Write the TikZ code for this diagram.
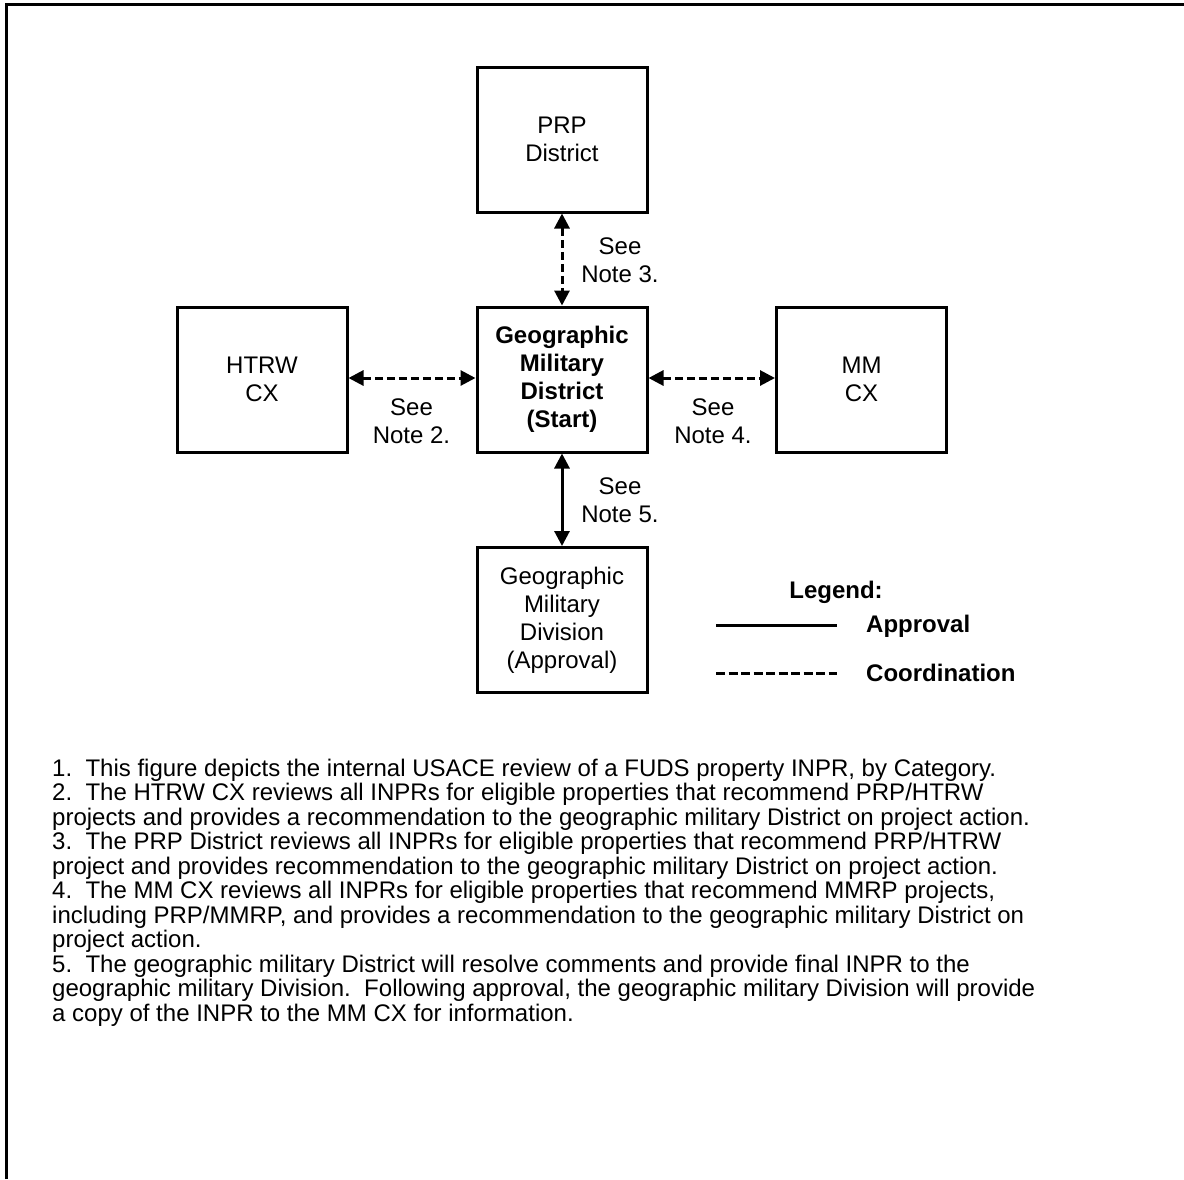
\documentclass[tikz,border=0pt]{standalone}
\usepackage{fontspec}
\setmainfont{Liberation Sans}
\usetikzlibrary{arrows.meta}
\frenchspacing
\begin{document}
\begin{tikzpicture}[x=1pt,y=-1pt,
  box/.style={draw,line width=3pt,minimum width=170pt,minimum height=145pt,
    align=center,font=\fontsize{24}{28}\selectfont,inner sep=0pt},
  link/.style={line width=3pt,{Triangle[length=15pt,width=15pt]}-{Triangle[length=15pt,width=15pt]}},
  coord/.style={link,dash pattern=on 8pt off 4pt},
  lbl/.style={align=center,font=\fontsize{24}{28}\selectfont,inner sep=0pt},
  legline/.style={line width=3pt},
  legtxt/.style={font=\fontsize{24}{28}\selectfont\bfseries,inner sep=0pt}]
\useasboundingbox (0,0) rectangle (1184,1179);
% open frame: top and left edges only
\draw[line width=3pt] (6.5,1179) -- (6.5,4.5) -- (1184,4.5);

% boxes
\node[box] (prp)  at (562,139.5) {PRP\\District};
\node[box] (gmd)  at (562,379.5) {\bfseries Geographic\\\bfseries Military\\\bfseries District\\\bfseries (Start)};
\node[box] (htrw) at (262,379.5) {HTRW\\CX};
\node[box] (mm)   at (861.5,379.5) {MM\\CX};
\node[box] (div)  at (562,620) {Geographic\\Military\\Division\\(Approval)};

% connectors
\draw[coord] (prp.south) -- (gmd.north);
\draw[coord] (htrw.east |- 0,378) -- (gmd.west |- 0,378);
\draw[coord] (gmd.east |- 0,378) -- (mm.west |- 0,378);
\draw[link] (gmd.south) -- (div.north);

% connector notes
\node[lbl] (n3) at (620,260) {See\\Note 3.};
\node[lbl] (n2) at (411.5,421) {See\\Note 2.};
\node[lbl] (n4) at (713,421) {See\\Note 4.};
\node[lbl] (n5) at (620,500) {See\\Note 5.};

% legend
\node[legtxt] (leg) at (836,592) {Legend:};
\coordinate (la1) at (716,625);
\coordinate (la2) at (837,625);
\coordinate (lc1) at (716,673);
\coordinate (lc2) at (837,673);
\draw[legline] (la1) -- (la2);
\draw[legline,dash pattern=on 9pt off 3.5pt] (lc1) -- (lc2);
\node[legtxt,anchor=west] (lapp) at (866,626) {Approval};
\node[legtxt,anchor=west] (lcoo) at (866,673) {Coordination};

% notes
\node[anchor=north west,align=left,inner sep=0pt,
      font=\fontsize{24}{24.5}\selectfont] (notes) at (52,758.5) {%
1.~ This figure depicts the internal USACE review of a FUDS property INPR, by Category.\\
2.~ The HTRW CX reviews all INPRs for eligible properties that recommend PRP/HTRW\\
projects and provides a recommendation to the geographic military District on project action.\\
3.~ The PRP District reviews all INPRs for eligible properties that recommend PRP/HTRW\\
project and provides recommendation to the geographic military District on project action.\\
4.~ The MM CX reviews all INPRs for eligible properties that recommend MMRP projects,\\
including PRP/MMRP, and provides a recommendation to the geographic military District on\\
project action.\\
5.~ The geographic military District will resolve comments and provide final INPR to the\\
geographic military Division.~ Following approval, the geographic military Division will provide\\
a copy of the INPR to the MM CX for information.};
\end{tikzpicture}
\end{document}
